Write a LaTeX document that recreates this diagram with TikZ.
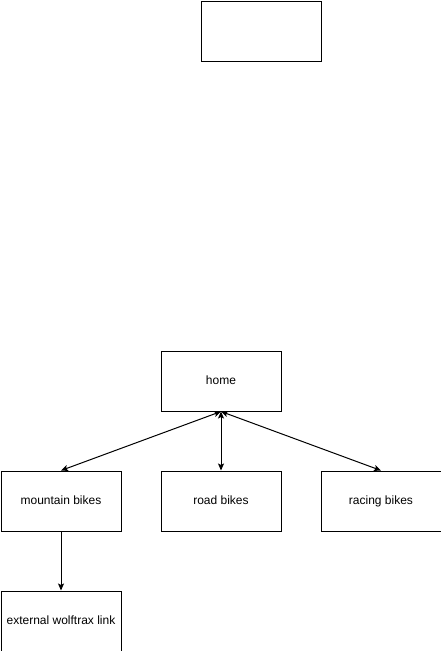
\documentclass[tikz,border=0pt]{standalone}
\usepackage{fontspec}
\setmainfont{Liberation Sans}
\usetikzlibrary{arrows.meta}
\begin{document}
\begin{tikzpicture}[x=1pt,y=-1pt,
  box/.style={draw=black, line width=1pt, minimum width=120pt, minimum height=60pt, inner sep=0pt, text height=8.6pt, text depth=2.5pt, font=\fontsize{12}{14}\selectfont, anchor=north west},
  conn/.style={line width=1pt, draw=black},
  tip/.tip={Stealth[length=7pt,width=6pt,inset=1.5pt]}]
\useasboundingbox (0,0) rectangle (441,651);
\node[box] (top) at (200.5,0.5) {};
\node[box] (home) at (160.5,350.5) {home};
\node[box] (mtb) at (0.5,470.5) {mountain bikes};
\node[box] (road) at (160.5,470.5) {road bikes};
\node[box] (race) at (320.5,470.5) {racing bikes};
\node[box] (ext) at (0.5,590.5) {external wolftrax link};
\draw[conn, tip-tip] (home.south) -- (mtb.north);
\draw[conn, tip-tip] (home.south) -- (road.north);
\draw[conn, tip-tip] (home.south) -- (race.north);
\draw[conn, -tip] (mtb.south) -- (ext.north);
\end{tikzpicture}
\end{document}
